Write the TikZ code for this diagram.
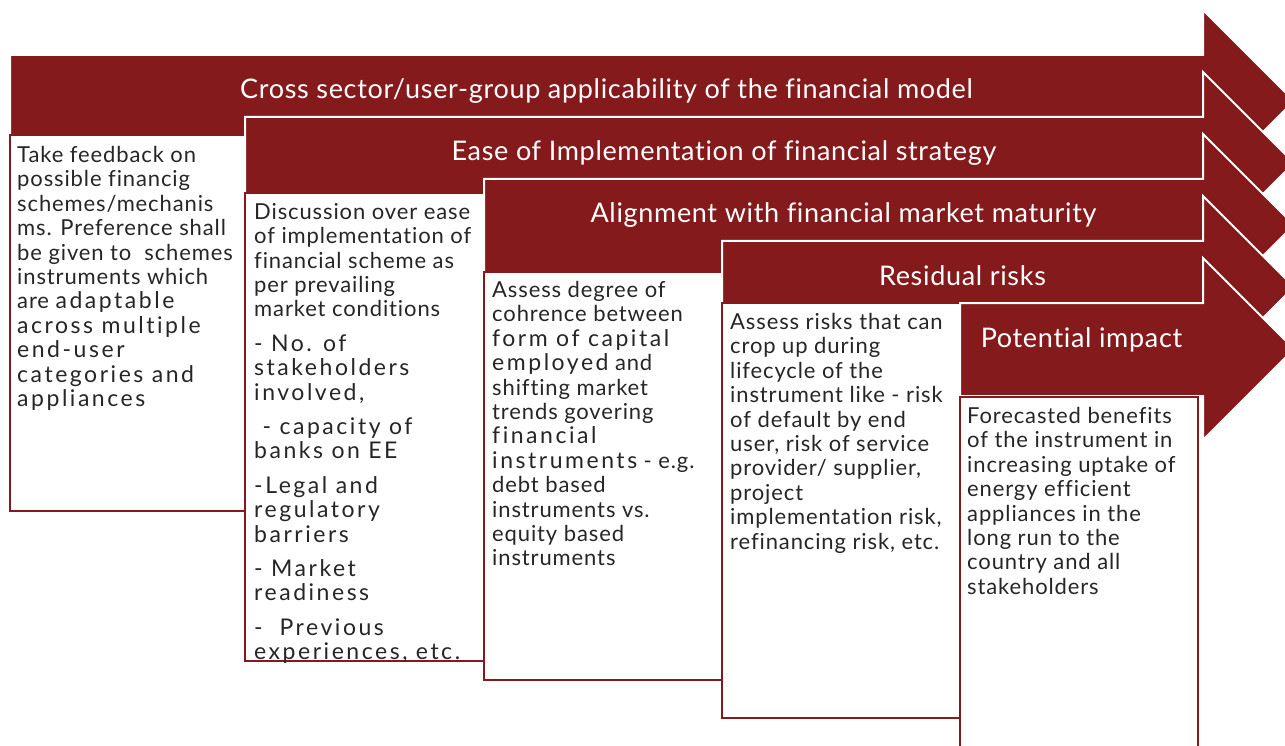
\documentclass[tikz,border=0pt]{standalone}
\usepackage{fontspec}
\setmainfont{Lato}[Ligatures={TeX,NoCommon}]
\definecolor{maroon}{HTML}{841A1C}
\definecolor{txt}{HTML}{262626}
\newcommand{\wideT}[1]{{\fontsize{23}{24.4}\selectfont\addfontfeature{LetterSpace=11}#1}}
\newcommand{\myarrow}[2]{%
  \draw[band] (#1,#2) -- (1203,#2) -- ({1203},{#2-45}) -- ({1294},{#2+46}) -- ({1203},{#2+137}) -- ({1203},{#2+93}) -- ({#1},{#2+93}) -- cycle;}
\begin{document}
\begin{tikzpicture}[x=1pt,y=-1pt,
  band/.style={fill=maroon, draw=white, line width=2pt, line join=miter},
  card/.style={fill=white, draw=maroon, line width=2.2pt},
  title/.style={text=white, font=\fontsize{27}{30}\selectfont\addfontfeature{LetterSpace=2.5}, anchor=base, inner sep=0pt},
  body/.style={text=txt, font=\fontsize{22}{24.4}\selectfont\addfontfeature{LetterSpace=4}, align=left, anchor=north west, inner sep=0pt}]
\clip (0,0) rectangle (1285,746);
\fill[white] (0,0) rectangle (1285,746);
% arrow 1
\myarrow{10}{55}
\node[title] (t1) at (606.5,99) {Cross sector/user-group applicability of the financial model};
\draw[card] (10,135) rectangle (245,511);
\node[body] (b1) at (17,146) {Take feedback on\\possible financig\\schemes/mechanis\\ms. Preference shall\\be given to\ \ schemes\\instruments which\\are \wideT{adaptable}\\\wideT{across multiple}\\\wideT{end-user}\\\wideT{categories and}\\\wideT{appliances}};
% arrow 2
\myarrow{245}{117}
\node[title] (t2) at (724,161) {Ease of Implementation of financial strategy};
\draw[card] (245,193) rectangle (484,661);
\node[body] (b2) at (254,203) {Discussion over ease\\of implementation of\\financial scheme as\\per prevailing\\market conditions\\[10pt]\wideT{- No. of}\\\wideT{stakeholders}\\\wideT{involved,}\\[10pt]\wideT{\ - capacity of}\\\wideT{banks on EE}\\[10pt]\wideT{-Legal and}\\\wideT{regulatory}\\\wideT{barriers}\\[10pt]\wideT{- Market}\\\wideT{readiness}\\[10pt]\wideT{-\ \ Previous}\\\wideT{experiences, etc.}};
% arrow 3
\myarrow{484}{179}
\node[title] (t3) at (843.5,223) {Alignment with financial market maturity};
\draw[card] (484,272) rectangle (722,680);
\node[body] (b3) at (492,281) {Assess degree of\\cohrence between\\\wideT{form of capital}\\\wideT{employed} and\\shifting market\\trends govering\\\wideT{financial}\\\wideT{instruments} - e.g.\\debt based\\instruments vs.\\equity based\\instruments};
% arrow 4
\myarrow{722}{241}
\node[title] (t4) at (962.5,285) {Residual risks};
\draw[card] (722,303) rectangle (960,718);
\node[body] (b4) at (730,313) {Assess risks that can\\crop up during\\lifecycle of the\\instrument like - risk\\of default by end\\user, risk of service\\provider/ supplier,\\project\\implementation risk,\\refinancing risk, etc.};
% arrow 5
\myarrow{960}{303}
\node[title] (t5) at (1081.5,347) {Potential impact};
\draw[card] (960,397) rectangle (1198,760);
\node[body] (b5) at (967,407) {Forecasted benefits\\of the instrument in\\increasing uptake of\\energy efficient\\appliances in the\\long run to the\\country and all\\stakeholders};
\end{tikzpicture}
\end{document}
